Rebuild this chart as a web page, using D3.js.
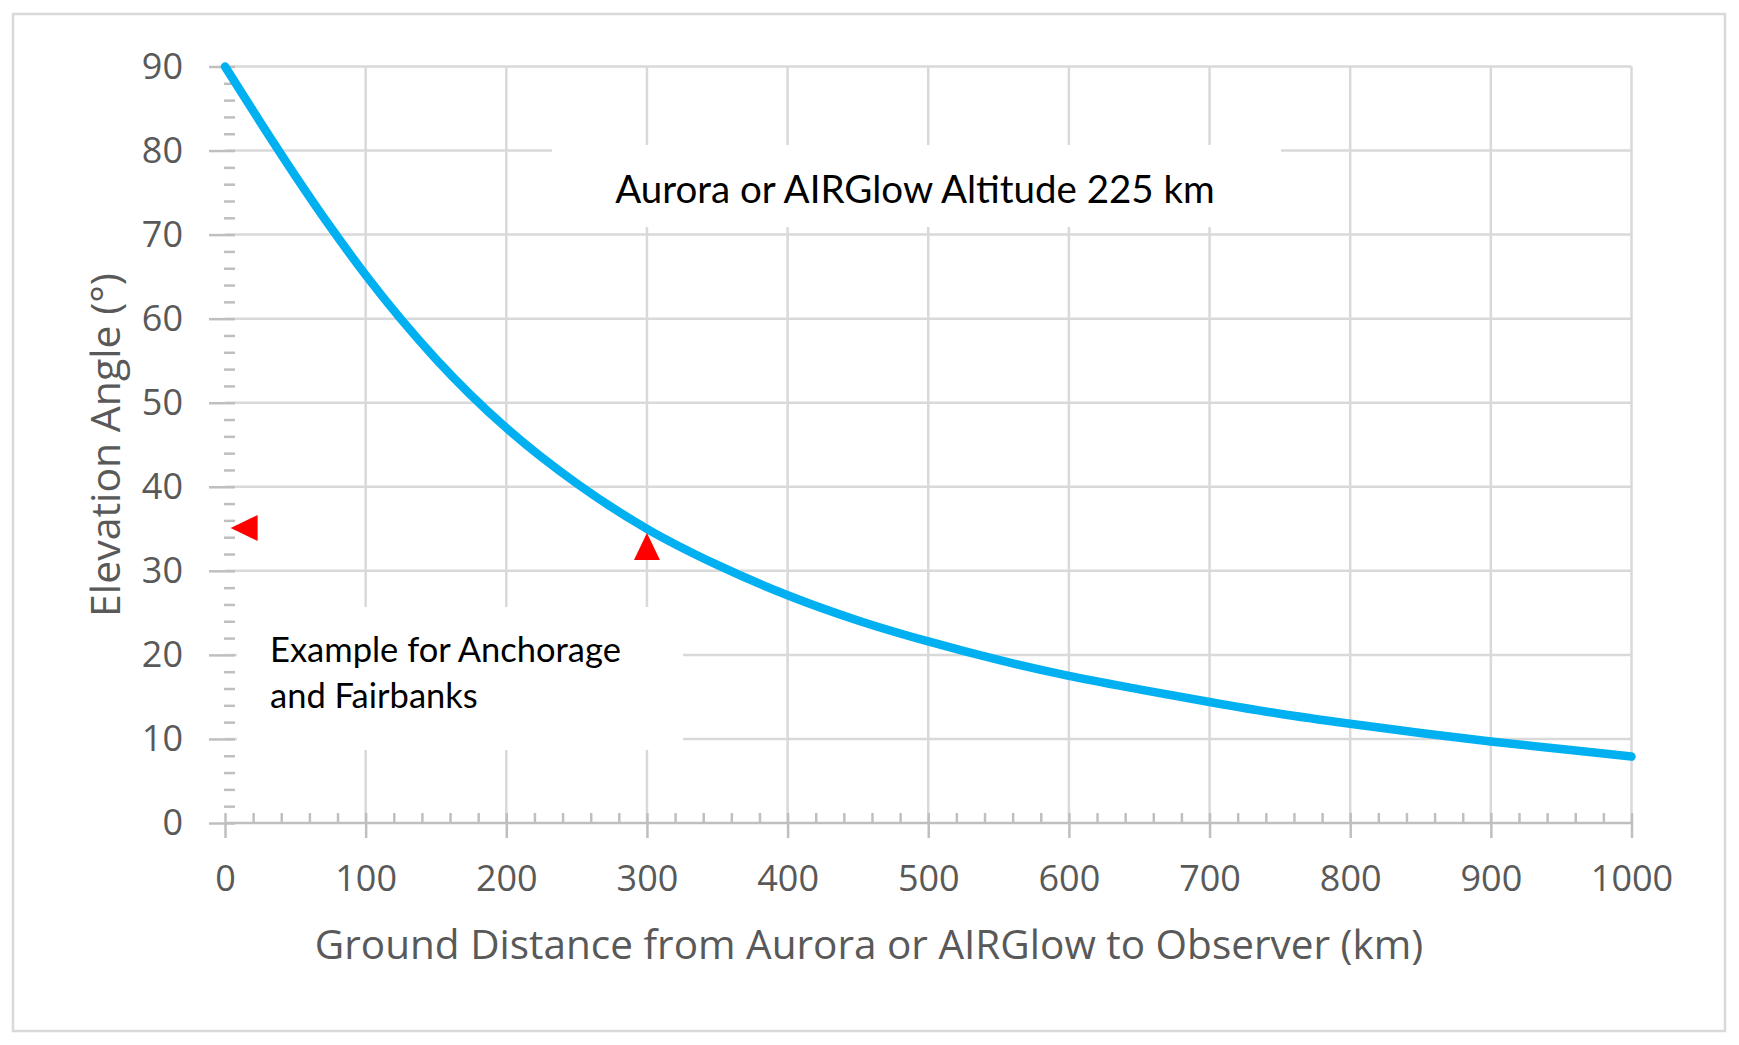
<!DOCTYPE html>
<html>
<head>
<meta charset="utf-8">
<script src="https://cdn.jsdelivr.net/npm/d3@7"></script>
<style>
  body { margin: 0; background: #fff; }
  svg text { font-family: "Open Sans", sans-serif; }
  .note { font-family: Lato, "Open Sans", sans-serif; fill: #000; }
</style>
</head>
<body>
<svg id="chart" width="1739" height="1045"></svg>
<script>
// ground distance (km) and elevation angle (deg)
const distance = [0, 25, 50, 75, 100, 150, 200, 250, 300, 350, 400, 450, 500,
  550, 600, 650, 700, 750, 800, 850, 900, 950, 1000];
const elevation = [90, 83.4, 77.0, 70.9, 65.2, 55.2, 47.0, 40.4, 35.0, 30.7, 27.1,
  24.1, 21.6, 19.4, 17.5, 15.9, 14.4, 13.0, 11.8, 10.7, 9.7, 8.8, 7.9];

// red triangles: where the tip sits and which way it points
const markerX = [4, 300];
const markerY = [35.1, 34.5];
const markerDir = ['left', 'up'];

const xTicks = [0, 100, 200, 300, 400, 500, 600, 700, 800, 900, 1000];
const yTicks = [0, 10, 20, 30, 40, 50, 60, 70, 80, 90];

const titleText = 'Aurora or AIRGlow Altitude 225 km';
const noteLines = ['Example for Anchorage', 'and Fairbanks'];
const xLabel = 'Ground Distance from Aurora or AIRGlow to Observer (km)';
const yLabel = 'Elevation Angle (°)';

const svg = d3.select('svg#chart');
const size = { width: +svg.attr('width'), height: +svg.attr('height') };
const pad = { top: 66.5, right: 107.5, bottom: 222, left: 225 };
const width = size.width - pad.left - pad.right;
const height = size.height - pad.top - pad.bottom;

const grid = '#d9d9d9';
const axisGrey = '#bfbfbf';
const textGrey = '#595959';

const x = d3.scaleLinear().domain([0, 1000]).range([0, width]);
const y = d3.scaleLinear().domain([0, 90]).range([height, 0]);

// outer frame
svg.append('rect')
  .attr('x', 13).attr('y', 14)
  .attr('width', 1712).attr('height', 1017)
  .attr('fill', 'none')
  .attr('stroke', grid)
  .attr('stroke-width', 2.5);

const plot = svg.append('g').attr('transform', `translate(${pad.left}, ${pad.top})`);

// gridlines
plot.append('g').selectAll('line')
  .data(yTicks.filter(d => d > 0))
  .enter().append('line')
    .attr('x1', 0).attr('x2', width)
    .attr('y1', d => y(d)).attr('y2', d => y(d))
    .attr('stroke', grid).attr('stroke-width', 2.5);

plot.append('g').selectAll('line')
  .data(xTicks.filter(d => d > 0))
  .enter().append('line')
    .attr('x1', d => x(d)).attr('x2', d => x(d))
    .attr('y1', 0).attr('y2', height)
    .attr('stroke', grid).attr('stroke-width', 2.5);

// white text boxes sit on top of the grid
svg.append('rect')
  .attr('x', 552).attr('y', 145).attr('width', 729).attr('height', 82)
  .attr('fill', '#fff');
svg.append('rect')
  .attr('x', 237).attr('y', 607).attr('width', 446).attr('height', 143)
  .attr('fill', '#fff');

// x axis: major ticks cross the axis, minor ticks sit inside
const minorX = d3.range(0, 1001, 20).filter(d => d % 100 !== 0);
plot.append('g')
  .attr('transform', `translate(0, ${height})`)
  .call(d3.axisTop(x).tickValues(minorX).tickSize(10).tickFormat(''))
  .call(g => g.select('.domain').remove())
  .call(g => g.selectAll('line').attr('stroke', axisGrey).attr('stroke-width', 2.5));

plot.append('g')
  .attr('transform', `translate(0, ${height - 10})`)
  .call(d3.axisBottom(x).tickValues(xTicks).tickSize(25).tickPadding(27).tickFormat(d3.format('d')))
  .call(g => g.select('.domain').remove())
  .call(g => g.selectAll('line').attr('stroke', axisGrey).attr('stroke-width', 2.5))
  .call(g => g.selectAll('text')
    .attr('fill', textGrey)
    .style('font-size', '36px')
    .style('font-family', '"Open Sans", sans-serif'));

plot.append('line')
  .attr('x1', 0).attr('x2', width)
  .attr('y1', height).attr('y2', height)
  .attr('stroke', axisGrey).attr('stroke-width', 2.5);

// y axis: no spine, only ticks
const minorY = d3.range(0, 91, 2).filter(d => d % 10 !== 0);
plot.append('g')
  .attr('transform', 'translate(10, 0)')
  .call(d3.axisLeft(y).tickValues(minorY).tickSize(11).tickFormat(''))
  .call(g => g.select('.domain').remove())
  .call(g => g.selectAll('line').attr('stroke', axisGrey).attr('stroke-width', 2.5));

plot.append('g')
  .attr('transform', 'translate(10, 0)')
  .call(d3.axisLeft(y).tickValues(yTicks).tickSize(26).tickPadding(26))
  .call(g => g.select('.domain').remove())
  .call(g => g.selectAll('line').attr('stroke', axisGrey).attr('stroke-width', 2.5))
  .call(g => g.selectAll('text')
    .attr('fill', textGrey)
    .style('font-size', '36px')
    .style('font-family', '"Open Sans", sans-serif'));

// the curve
const line = d3.line()
  .x((d, i) => x(distance[i]))
  .y(d => y(d))
  .curve(d3.curveMonotoneX);

plot.append('path')
  .datum(elevation)
  .attr('d', line)
  .attr('fill', 'none')
  .attr('stroke', '#00b0f0')
  .attr('stroke-width', 8.5)
  .attr('stroke-linecap', 'round');

// red triangle markers
function triangle(px, py, dir) {
  const w = 13, h = 27;
  if (dir === 'up') {
    return `M${px},${py}L${px + w},${py + h}L${px - w},${py + h}Z`;
  }
  return `M${px},${py}L${px + h},${py - w}L${px + h},${py + w}Z`;
}

plot.append('g').selectAll('path')
  .data(markerX)
  .enter().append('path')
    .attr('d', (d, i) => triangle(x(d), y(markerY[i]), markerDir[i]))
    .attr('fill', '#ff0000');

// annotations
svg.append('text')
  .attr('class', 'note')
  .attr('x', 915).attr('y', 203)
  .attr('text-anchor', 'middle')
  .style('font-size', '38.5px')
  .text(titleText);

svg.append('text')
  .attr('class', 'note')
  .style('font-size', '34.5px')
  .selectAll('tspan')
  .data(noteLines)
  .enter().append('tspan')
    .attr('x', 270)
    .attr('y', (d, i) => 662 + i * 46)
    .text(d => d);

// axis titles
svg.append('text')
  .attr('x', 869).attr('y', 959)
  .attr('text-anchor', 'middle')
  .attr('fill', textGrey)
  .style('font-size', '40.5px')
  .text(xLabel);

svg.append('text')
  .attr('transform', 'translate(120, 445) rotate(-90)')
  .attr('text-anchor', 'middle')
  .attr('fill', textGrey)
  .style('font-size', '41px')
  .text(yLabel);
</script>
</body>
</html>
